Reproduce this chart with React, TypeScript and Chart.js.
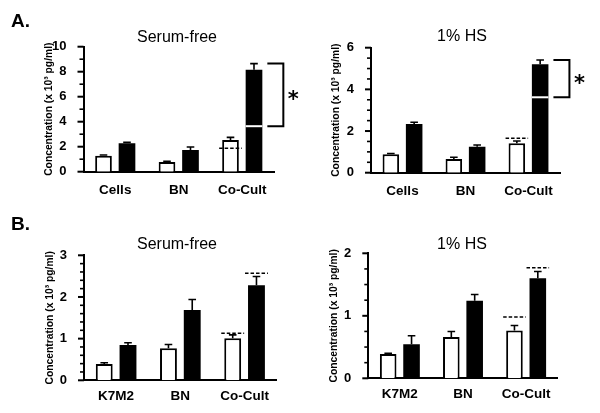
import React, { useEffect, useRef } from 'react';
import { Chart, registerables } from 'chart.js';

Chart.register(...registerables);

const FONT = '"Liberation Sans", Arial, Helvetica, sans-serif';
Chart.defaults.font.family = FONT;

// ---------- data ----------
const categoriesA = ['Cells', 'BN', 'Co-Cult'];
const categoriesB = ['K7M2', 'BN', 'Co-Cult'];

const aSerumFreeWhite = [1.28, 0.77, 2.53];
const aSerumFreeWhiteErr = [0.06, 0.07, 0.22];
const aSerumFreeBlack = [2.27, 1.74, 8.15];
const aSerumFreeBlackErr = [0.08, 0.24, 0.5];

const aHSWhite = [0.88, 0.66, 1.41];
const aHSWhiteErr = [0.04, 0.08, 0.11];
const aHSBlack = [2.34, 1.25, 5.2];
const aHSBlackErr = [0.08, 0.08, 0.21];

const bSerumFreeWhite = [0.39, 0.77, 1.01];
const bSerumFreeWhiteErr = [0.03, 0.09, 0.08];
const bSerumFreeBlack = [0.85, 1.69, 2.28];
const bSerumFreeBlackErr = [0.05, 0.25, 0.21];

const bHSWhite = [0.39, 0.66, 0.765];
const bHSWhiteErr = [0.01, 0.09, 0.08];
const bHSBlack = [0.545, 1.24, 1.6];
const bHSBlackErr = [0.135, 0.1, 0.11];

// dashed reference lines: [category index, dataset index (0 white, 1 black), value]
const aSerumFreeDashes = [[2, 0, 1.87]];
const aHSDashes = [[2, 0, 1.65]];
const bSerumFreeDashes = [[2, 0, 1.13], [2, 1, 2.57]];
const bHSDashes = [[2, 0, 0.98], [2, 1, 1.77]];

// significance brackets: [category index, dataset index, from, to]
const aSerumFreeBracket = [2, 1, 3.64, 8.65];
const aHSBracket = [2, 1, 3.62, 5.41];

// y axis tick labels (major) and minor step
const aSerumFreeTicks = [0, 2, 4, 6, 8, 10];
const aSerumFreeMinor = 1;
const aHSTicks = [0, 2, 4, 6];
const aHSMinor = 0.5;
const bSerumFreeTicks = [0, 1, 2, 3];
const bSerumFreeMinor = 0.2;
const bHSTicks = [0, 1, 2];
const bHSMinor = 0.25;

const yTitle = 'Concentration (x 10\u00B3 pg/ml)';

// ---------- panel component ----------
type TextItem = { text: string; x: number; y: number; font: string; align: CanvasTextAlign };

interface PanelProps {
  left: number;
  top: number;
  width: number;
  height: number;
  area: { l: number; r: number; t: number; b: number };
  categories: string[];
  white: number[];
  whiteErr: number[];
  black: number[];
  blackErr: number[];
  majorTicks: number[];
  minorStep: number;
  dashes: number[][];
  bracket?: number[];
  texts: TextItem[];
  titleGap: number;
  xPad: number;
}

function Panel(p: PanelProps) {
  const ref = useRef<HTMLCanvasElement | null>(null);

  useEffect(() => {
    const canvas = ref.current;
    if (!canvas) return;
    const ox = p.left;
    const oy = p.top;
    const areaL = p.area.l - ox;
    const areaR = p.area.r - ox;
    const areaT = p.area.t - oy;
    const areaB = p.area.b - oy;
    const yMax = p.majorTicks[p.majorTicks.length - 1];
    const majorStep = p.majorTicks[1] - p.majorTicks[0];
    const isMajor = (v: number) => Math.abs(v / majorStep - Math.round(v / majorStep)) < 1e-6;
    const errs = [p.whiteErr, p.blackErr];

    const overlay = {
      id: 'overlay',
      afterDatasetsDraw(chart: any) {
        const ctx = chart.ctx as CanvasRenderingContext2D;
        const ys = chart.scales.y;
        ctx.save();
        // error bars (upper only)
        for (let di = 0; di < 2; di++) {
          const meta = chart.getDatasetMeta(di);
          const vals = chart.data.datasets[di].data as number[];
          meta.data.forEach((bar: any, i: number) => {
            const x = bar.x;
            const yTop = ys.getPixelForValue(vals[i]);
            const yCap = ys.getPixelForValue(vals[i] + errs[di][i]);
            ctx.strokeStyle = '#000';
            ctx.lineWidth = 1.6;
            ctx.setLineDash([]);
            ctx.beginPath();
            ctx.moveTo(x, yTop);
            ctx.lineTo(x, yCap);
            ctx.moveTo(x - 3.8, yCap);
            ctx.lineTo(x + 3.8, yCap);
            ctx.stroke();
          });
        }
        // dashed reference lines
        p.dashes.forEach(([ci, di, v]) => {
          const bar: any = chart.getDatasetMeta(di).data[ci];
          const y = ys.getPixelForValue(v);
          ctx.strokeStyle = '#000';
          ctx.lineWidth = 1.5;
          ctx.setLineDash([3.5, 2]);
          ctx.beginPath();
          ctx.moveTo(bar.x - bar.width / 2 - 3, y);
          ctx.lineTo(bar.x + bar.width / 2 + 3, y);
          ctx.stroke();
        });
        ctx.setLineDash([]);
        // bracket
        if (p.bracket) {
          const [ci, di, from, to] = p.bracket;
          const bar: any = chart.getDatasetMeta(di).data[ci];
          const yb = ys.getPixelForValue(from);
          const yt = ys.getPixelForValue(to);
          ctx.fillStyle = '#fff';
          ctx.fillRect(bar.x - bar.width / 2, yb - 1, bar.width, 2);
          const x0 = bar.x + bar.width / 2 + 5;
          const x1 = x0 + 16;
          ctx.strokeStyle = '#000';
          ctx.lineWidth = 2;
          ctx.beginPath();
          ctx.moveTo(x0, yt);
          ctx.lineTo(x1, yt);
          ctx.lineTo(x1, yb);
          ctx.lineTo(x0, yb);
          ctx.stroke();
          // asterisk
          ctx.fillStyle = '#000';
          ctx.font = `bold 21px "DejaVu Sans", ${FONT}`;
          ctx.textAlign = 'center';
          ctx.textBaseline = 'alphabetic';
          const m = ctx.measureText('*');
          const yc = (yt + yb) / 2;
          const y = yc + (m.actualBoundingBoxAscent - m.actualBoundingBoxDescent) / 2;
          ctx.fillText('*', x1 + 10, y);
        }
        ctx.restore();
      },
      afterDraw(chart: any) {
        const ctx = chart.ctx as CanvasRenderingContext2D;
        const ys = chart.scales.y;
        const left = chart.chartArea.left;
        ctx.save();
        ctx.strokeStyle = '#000';
        ys.ticks.forEach((t: any) => {
          const y = ys.getPixelForValue(t.value);
          const major = isMajor(t.value);
          const len = major ? 6 : 4;
          ctx.lineWidth = major ? 2 : 1.6;
          ctx.beginPath();
          ctx.moveTo(left - len, y);
          ctx.lineTo(left, y);
          ctx.stroke();
        });
        ctx.fillStyle = '#000';
        p.texts.forEach((t) => {
          ctx.font = t.font;
          ctx.textAlign = t.align;
          ctx.textBaseline = 'alphabetic';
          ctx.fillText(t.text, t.x - ox, t.y - oy);
        });
        ctx.restore();
      },
    };

    const chart = new Chart(canvas, {
      type: 'bar',
      data: {
        labels: p.categories,
        datasets: [
          {
            data: p.white,
            backgroundColor: '#ffffff',
            borderColor: '#000000',
            borderWidth: 2,
            categoryPercentage: 0.74,
            barPercentage: 0.71,
          },
          {
            data: p.black,
            backgroundColor: '#000000',
            borderColor: '#000000',
            borderWidth: 0,
            categoryPercentage: 0.74,
            barPercentage: 0.71,
          },
        ],
      },
      options: {
        responsive: false,
        animation: false,
        devicePixelRatio: 1,
        events: [],
        layout: { padding: { left: 0, top: areaT, right: p.width - areaR, bottom: 0 } },
        plugins: {
          legend: { display: false },
          tooltip: { enabled: false },
          title: { display: false },
        },
        scales: {
          x: {
            type: 'category',
            grid: { display: false },
            border: { display: true, color: '#000', width: 2 },
            ticks: {
              color: '#000',
              font: { size: 13.5, weight: 'bold' },
              padding: p.xPad,
              maxRotation: 0,
              autoSkip: false,
            },
            afterFit: (s: any) => {
              s.height = p.height - areaB;
            },
          },
          y: {
            min: 0,
            max: yMax,
            grid: { display: false },
            border: { display: true, color: '#000', width: 2 },
            ticks: {
              stepSize: p.minorStep,
              autoSkip: false,
              maxTicksLimit: 1000,
              color: '#000',
              font: { size: 13, weight: 'bold' },
              padding: 9,
              callback: (v: any) => {
                const n = Number(v);
                return p.majorTicks.some((m) => Math.abs(m - n) < 1e-6) ? String(Math.round(n)) : '';
              },
            },
            title: {
              display: true,
              text: yTitle,
              color: '#000',
              font: { size: 10.3, weight: 'bold' },
              padding: { top: areaL - p.titleGap - 6, bottom: 0 },
            },
            afterFit: (s: any) => {
              s.width = areaL;
            },
          },
        },
      } as any,
      plugins: [overlay],
    });
    return () => chart.destroy();
  }, []);

  return (
    <canvas
      ref={ref}
      width={p.width}
      height={p.height}
      style={{ position: 'absolute', left: p.left, top: p.top, width: p.width, height: p.height }}
    />
  );
}

const labelFont = `bold 19px ${FONT}`;
const titleFont = `16px ${FONT}`;

export default function App() {
  return (
    <div style={{ position: 'absolute', left: 0, top: 0, width: 600, height: 413, background: '#fff', overflow: 'hidden' }}>
      <Panel
        left={0}
        top={0}
        width={300}
        height={205}
        area={{ l: 83.5, r: 274, t: 46.7, b: 171.7 }}
        categories={categoriesA}
        white={aSerumFreeWhite}
        whiteErr={aSerumFreeWhiteErr}
        black={aSerumFreeBlack}
        blackErr={aSerumFreeBlackErr}
        majorTicks={aSerumFreeTicks}
        minorStep={aSerumFreeMinor}
        dashes={aSerumFreeDashes}
        bracket={aSerumFreeBracket}
        titleGap={35}
        xPad={2}
        texts={[
          { text: 'A.', x: 11, y: 27, font: labelFont, align: 'left' },
          { text: 'Serum-free', x: 177, y: 41.5, font: titleFont, align: 'center' },
        ]}
      />
      <Panel
        left={300}
        top={0}
        width={300}
        height={205}
        area={{ l: 371, r: 560, t: 47.7, b: 172.7 }}
        categories={categoriesA}
        white={aHSWhite}
        whiteErr={aHSWhiteErr}
        black={aHSBlack}
        blackErr={aHSBlackErr}
        majorTicks={aHSTicks}
        minorStep={aHSMinor}
        dashes={aHSDashes}
        bracket={aHSBracket}
        titleGap={35}
        xPad={2}
        texts={[{ text: '1% HS', x: 462, y: 41, font: titleFont, align: 'center' }]}
      />
      <Panel
        left={0}
        top={205}
        width={300}
        height={208}
        area={{ l: 84, r: 276.7, t: 255.3, b: 380.3 }}
        categories={categoriesB}
        white={bSerumFreeWhite}
        whiteErr={bSerumFreeWhiteErr}
        black={bSerumFreeBlack}
        blackErr={bSerumFreeBlackErr}
        majorTicks={bSerumFreeTicks}
        minorStep={bSerumFreeMinor}
        dashes={bSerumFreeDashes}
        titleGap={34}
        xPad={0}
        texts={[
          { text: 'B.', x: 11, y: 229.5, font: labelFont, align: 'left' },
          { text: 'Serum-free', x: 177, y: 248.5, font: titleFont, align: 'center' },
        ]}
      />
      <Panel
        left={300}
        top={205}
        width={300}
        height={208}
        area={{ l: 368.3, r: 557.7, t: 253.3, b: 378.3 }}
        categories={categoriesB}
        white={bHSWhite}
        whiteErr={bHSWhiteErr}
        black={bHSBlack}
        blackErr={bHSBlackErr}
        majorTicks={bHSTicks}
        minorStep={bHSMinor}
        dashes={bHSDashes}
        titleGap={34}
        xPad={0}
        texts={[{ text: '1% HS', x: 462, y: 249, font: titleFont, align: 'center' }]}
      />
    </div>
  );
}
